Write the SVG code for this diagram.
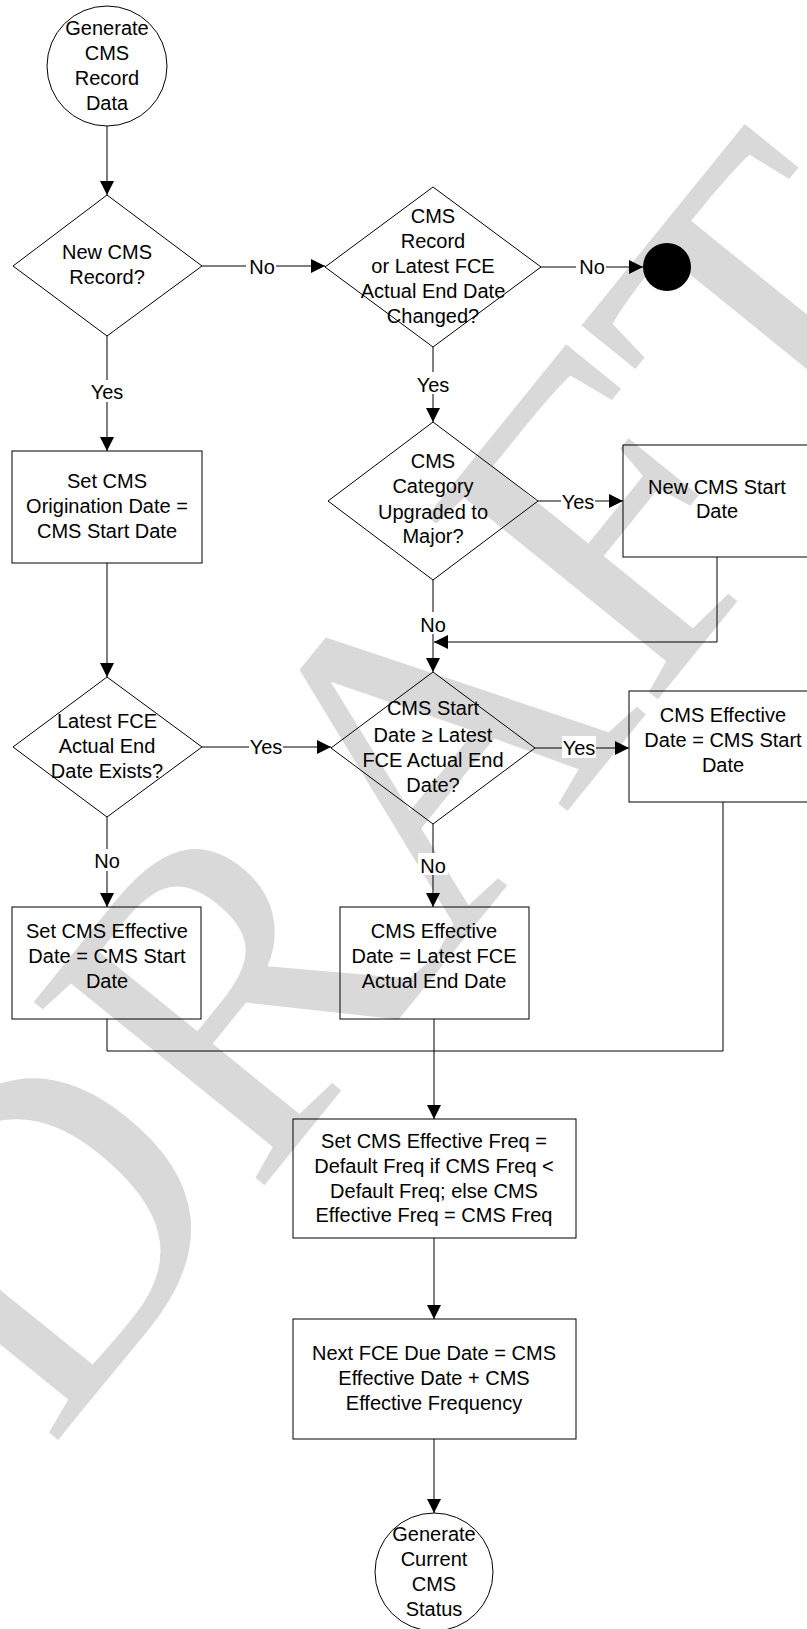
<svg xmlns="http://www.w3.org/2000/svg" width="807" height="1629" viewBox="0 0 807 1629">
  <defs>
    <marker id="arrow" markerWidth="14" markerHeight="14" refX="14" refY="7" orient="auto" markerUnits="userSpaceOnUse">
      <path d="M0,0 L14,7 L0,14 Z" fill="#000"/>
    </marker>
    <style>
      .shape { fill: none; stroke: #000; stroke-width: 1; }
      .line { fill: none; stroke: #000; stroke-width: 1; }
      .txt { font-family: "Liberation Sans", Arial, sans-serif; font-size: 20px; fill: #000; text-anchor: middle; }
      .lbl { font-family: "Liberation Sans", Arial, sans-serif; font-size: 20px; fill: #000; text-anchor: middle; }
      .lblbg { fill: #fff; }
      .wm { font-family: "Liberation Serif", "Times New Roman", serif; font-size: 450px; fill: #d9d9d9; }
    </style>
  </defs>
  <rect width="807" height="1629" fill="#fff"/>

  <!-- watermark -->
  <text class="wm" transform="translate(50,1450) rotate(-51)">DRAFT</text>

  <!-- connectors -->
  <g id="connectors">
    <line class="line" x1="107" y1="126" x2="107" y2="195" marker-end="url(#arrow)"/>
    <line class="line" x1="202" y1="266" x2="325" y2="266" marker-end="url(#arrow)"/>
    <line class="line" x1="541" y1="267" x2="643" y2="267" marker-end="url(#arrow)"/>
    <line class="line" x1="107" y1="336" x2="107" y2="451" marker-end="url(#arrow)"/>
    <line class="line" x1="433" y1="347" x2="433" y2="422" marker-end="url(#arrow)"/>
    <line class="line" x1="538" y1="501" x2="623" y2="501" marker-end="url(#arrow)"/>
    <polyline class="line" points="717,557 717,642 434,642" marker-end="url(#arrow)"/>
    <line class="line" x1="433" y1="580" x2="433" y2="672" marker-end="url(#arrow)"/>
    <line class="line" x1="107" y1="563" x2="107" y2="677" marker-end="url(#arrow)"/>
    <line class="line" x1="202" y1="747" x2="331" y2="747" marker-end="url(#arrow)"/>
    <line class="line" x1="535" y1="748" x2="629" y2="748" marker-end="url(#arrow)"/>
    <line class="line" x1="107" y1="817" x2="107" y2="907" marker-end="url(#arrow)"/>
    <line class="line" x1="433" y1="824" x2="433" y2="907" marker-end="url(#arrow)"/>
    <polyline class="line" points="107,1019 107,1051 723,1051 723,802"/>
    <line class="line" x1="434" y1="1019" x2="434" y2="1119" marker-end="url(#arrow)"/>
    <line class="line" x1="434" y1="1238" x2="434" y2="1319" marker-end="url(#arrow)"/>
    <line class="line" x1="434" y1="1439" x2="434" y2="1513" marker-end="url(#arrow)"/>
    <!-- connector labels -->
    <rect class="lblbg" x="246" y="255" width="30" height="22"/>
    <text class="lbl" x="262" y="274">No</text>
    <rect class="lblbg" x="576" y="255" width="30" height="22"/>
    <text class="lbl" x="592" y="274">No</text>
    <rect class="lblbg" x="90" y="380" width="34" height="22"/>
    <text class="lbl" x="107" y="399">Yes</text>
    <rect class="lblbg" x="416" y="372" width="34" height="22"/>
    <text class="lbl" x="433" y="392">Yes</text>
    <rect class="lblbg" x="561" y="490" width="34" height="22"/>
    <text class="lbl" x="578" y="509">Yes</text>
    <rect class="lblbg" x="418" y="612" width="30" height="22"/>
    <text class="lbl" x="433" y="632">No</text>
    <rect class="lblbg" x="249" y="735" width="34" height="22"/>
    <text class="lbl" x="266" y="754">Yes</text>
    <rect class="lblbg" x="562" y="736" width="34" height="22"/>
    <text class="lbl" x="579" y="755">Yes</text>
    <rect class="lblbg" x="92" y="849" width="30" height="22"/>
    <text class="lbl" x="107" y="868">No</text>
    <rect class="lblbg" x="418" y="853" width="30" height="22"/>
    <text class="lbl" x="433" y="873">No</text>
  </g>

  <!-- start -->
  <g id="start">
    <circle class="shape" cx="107" cy="66" r="60"/>
    <text class="txt" x="107" y="35">Generate</text>
    <text class="txt" x="107" y="60">CMS</text>
    <text class="txt" x="107" y="85">Record</text>
    <text class="txt" x="107" y="110">Data</text>
  </g>

  <g id="new-record">
    <polygon class="shape" points="107,195 202,266 107,336 13,266"/>
    <text class="txt" x="107" y="259">New CMS</text>
    <text class="txt" x="107" y="284">Record?</text>
  </g>

  <g id="changed">
    <polygon class="shape" points="433,187 541,267 433,347 325,267"/>
    <text class="txt" x="433" y="223">CMS</text>
    <text class="txt" x="433" y="248">Record</text>
    <text class="txt" x="433" y="273">or Latest FCE</text>
    <text class="txt" x="433" y="298">Actual End Date</text>
    <text class="txt" x="433" y="323">Changed?</text>
  </g>

  <g id="end-unchanged">
    <circle cx="667" cy="267" r="24" fill="#000"/>
  </g>

  <g id="set-origination">
    <rect class="shape" x="12" y="451" width="190" height="112"/>
    <text class="txt" x="107" y="488">Set CMS</text>
    <text class="txt" x="107" y="513">Origination Date =</text>
    <text class="txt" x="107" y="538">CMS Start Date</text>
  </g>

  <g id="upgraded">
    <polygon class="shape" points="433,422 538,501 433,580 328,501"/>
    <text class="txt" x="433" y="468">CMS</text>
    <text class="txt" x="433" y="493">Category</text>
    <text class="txt" x="433" y="519">Upgraded to</text>
    <text class="txt" x="433" y="543">Major?</text>
  </g>

  <g id="new-start">
    <rect class="shape" x="623" y="445" width="190" height="112"/>
    <text class="txt" x="717" y="494">New CMS Start</text>
    <text class="txt" x="717" y="518">Date</text>
  </g>

  <g id="fce-exists">
    <polygon class="shape" points="107,677 202,747 107,817 13,747"/>
    <text class="txt" x="107" y="728">Latest FCE</text>
    <text class="txt" x="107" y="753">Actual End</text>
    <text class="txt" x="107" y="778">Date Exists?</text>
  </g>

  <g id="start-after-fce">
    <polygon class="shape" points="433,672 535,748 433,824 331,748"/>
    <text class="txt" x="433" y="715">CMS Start</text>
    <text class="txt" x="433" y="742">Date ≥ Latest</text>
    <text class="txt" x="433" y="767">FCE Actual End</text>
    <text class="txt" x="433" y="792">Date?</text>
  </g>

  <g id="eff-start">
    <rect class="shape" x="629" y="691" width="190" height="111"/>
    <text class="txt" x="723" y="722">CMS Effective</text>
    <text class="txt" x="723" y="747">Date = CMS Start</text>
    <text class="txt" x="723" y="772">Date</text>
  </g>

  <g id="set-eff-start">
    <rect class="shape" x="12" y="907" width="189" height="112"/>
    <text class="txt" x="107" y="938">Set CMS Effective</text>
    <text class="txt" x="107" y="963">Date = CMS Start</text>
    <text class="txt" x="107" y="988">Date</text>
  </g>

  <g id="eff-fce">
    <rect class="shape" x="340" y="907" width="189" height="112"/>
    <text class="txt" x="434" y="938">CMS Effective</text>
    <text class="txt" x="434" y="963">Date = Latest FCE</text>
    <text class="txt" x="434" y="988">Actual End Date</text>
  </g>

  <g id="eff-freq">
    <rect class="shape" x="293" y="1119" width="283" height="119"/>
    <text class="txt" x="434" y="1148">Set CMS Effective Freq =</text>
    <text class="txt" x="434" y="1173">Default Freq if CMS Freq &lt;</text>
    <text class="txt" x="434" y="1198">Default Freq; else CMS</text>
    <text class="txt" x="434" y="1222">Effective Freq = CMS Freq</text>
  </g>

  <g id="next-due">
    <rect class="shape" x="293" y="1319" width="283" height="120"/>
    <text class="txt" x="434" y="1360">Next FCE Due Date = CMS</text>
    <text class="txt" x="434" y="1385">Effective Date + CMS</text>
    <text class="txt" x="434" y="1410">Effective Frequency</text>
  </g>

  <g id="end">
    <circle class="shape" cx="434" cy="1572" r="59"/>
    <text class="txt" x="434" y="1541">Generate</text>
    <text class="txt" x="434" y="1566">Current</text>
    <text class="txt" x="434" y="1591">CMS</text>
    <text class="txt" x="434" y="1616">Status</text>
  </g>
</svg>
